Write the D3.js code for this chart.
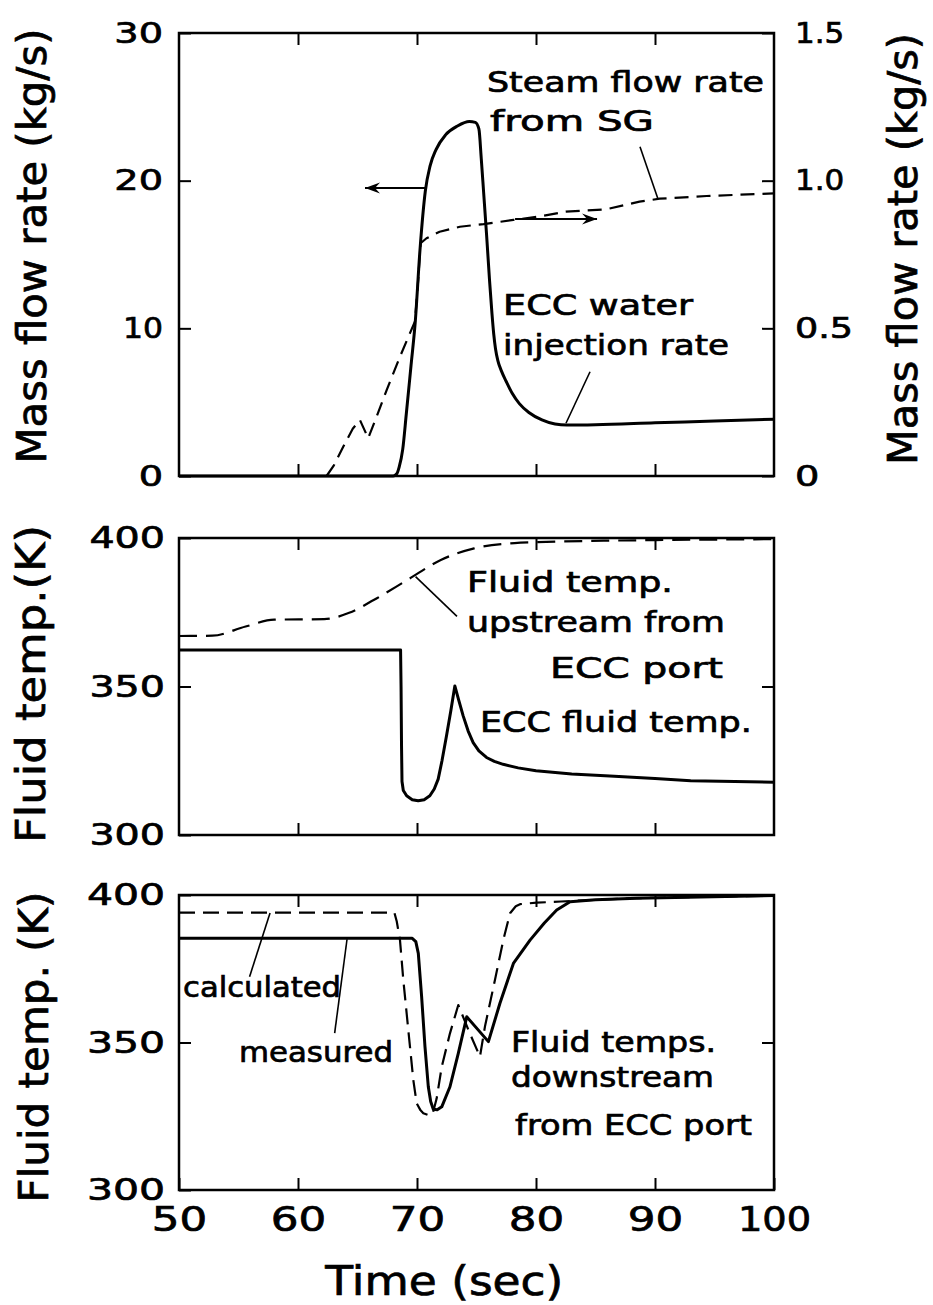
<!DOCTYPE html>
<html>
<head>
<meta charset="utf-8">
<script src="https://cdn.jsdelivr.net/npm/d3@7/dist/d3.min.js"></script>
<style>
  body { margin: 0; background: #fff; }
  svg { display: block; background: #fff; }
  text { font-family: "DejaVu Sans", "Liberation Sans", sans-serif; fill: #000; stroke: #000; stroke-width: 0.7px; }
</style>
</head>
<body>
<svg id="chart" width="933" height="1305"></svg>
<script>
// ---- data -------------------------------------------------------------
const timeTicks = [50, 60, 70, 80, 90, 100];
const flowTicks = [0, 10, 20, 30];
const steamTicks = [0, 0.5, 1.0, 1.5];
const tempTicks = [300, 350, 400];

// top panel, left axis: ECC water injection rate [time s, kg/s]
const eccInjection = [
  [50,0],[68.0,0],[68.3,0.15],[68.5,0.6],[68.8,1.8],[69.1,4.2],[69.5,7.5],[69.85,10.4],
  [70.25,15.3],[70.7,19.3],[71.1,21.0],[71.6,22.1],[72.4,23.1],[73.4,23.7],[74.4,24.0],
  [74.9,23.95],[75.2,23.5],[75.4,21.5],[75.6,19.2],[75.85,16.3],[76.1,13.2],[76.3,11.0],
  [76.45,9.6],[76.6,8.6],[76.8,7.8],[77.1,7.1],[77.5,6.4],[78.0,5.6],[78.6,4.9],[79.4,4.3],
  [80.5,3.8],[81.6,3.52],[82.6,3.45],[85,3.47],[90,3.6],[95,3.72],[100,3.85]
];
// top panel, right axis: steam flow rate from SG [time s, kg/s]
const steamFlow = [
  [62.4,0],[63.0,0.035],[63.8,0.099],[64.6,0.16],[65.2,0.19],[65.9,0.128],[66.6,0.2],
  [67.45,0.291],[68.57,0.404],[69.4,0.483],[69.83,0.523],[70.1,0.664],[70.3,0.788],
  [70.8,0.805],[71.9,0.827],[73.6,0.844],[75.6,0.853],[78.1,0.867],[80.5,0.88],[82.5,0.895],
  [85.9,0.903],[88.7,0.929],[90.4,0.939],[94.35,0.948],[100,0.957]
];
// middle panel: fluid temperature upstream from ECC port [time s, K]
const upstreamTemp = [
  [50,367],[52.8,367.1],[55.6,370.2],[58,372.5],[62.2,372.7],[64.3,374.8],[66.4,379.2],
  [69.2,385.9],[72,392.6],[74.8,396.5],[78.2,398.3],[80,398.6],[85.9,399.1],[90,399.3],[100,399.6]
];
// middle panel: ECC fluid temperature [time s, K]
const eccFluidTemp = [
  [50,362.3],[68.62,362.3],[68.66,350],[68.7,330],[68.74,318],[68.85,315],[69.13,313.2],
  [69.6,311.9],[70.1,311.5],[70.6,311.9],[71.08,313.2],[71.45,315.5],[71.78,318.8],
  [72.1,325],[72.48,333.4],[72.85,342],[73.18,350.2],[73.5,345.5],[73.88,340.1],[74.3,335],
  [74.72,331.1],[75.2,328.3],[75.84,326.1],[76.5,324.8],[77.24,323.8],[78.5,322.6],[80,321.6],
  [83,320.5],[86.2,319.9],[90,319],[93,318.3],[100,317.8]
];
// bottom panel: calculated downstream fluid temperature [time s, K]
const calculatedTemp = [
  [50,394],[68.1,394],[68.3,391],[68.57,384.7],[68.85,371.2],[69.27,354.2],[69.69,337.3],
  [69.97,329.4],[70.3,327],[70.53,326],[71.0,325.3],[71.3,325.6],[71.65,331],[72.08,341.8],
  [72.77,353.1],[73.47,362.7],[74.4,353.5],[75.29,345.2],[75.71,355.4],[76.55,371.2],
  [77.25,384.7],[77.82,393.8],[78.3,396.2],[78.66,396.9],[80.06,397.4],[82.1,397.8],
  [88,398.9],[100,399.8]
];
// bottom panel: measured downstream fluid temperature [time s, K]
const measuredTemp = [
  [50,385.3],[69.6,385.3],[69.9,384.2],[70.11,380.2],[70.39,365.5],[70.67,348.6],[70.95,335],
  [71.15,330],[71.37,327.4],[71.7,327.2],[72.08,328.2],[72.77,335],[73.47,346.3],[74.18,358.7],
  [76.0,350.3],[76.97,363.3],[78.1,376.8],[79.5,384.7],[80.7,390.5],[81.74,394.9],
  [82.86,397.7],[85,398.4],[88.46,398.9],[100,399.8]
];

// ---- layout -----------------------------------------------------------
const svg = d3.select("#chart");
const x = d3.scaleLinear().domain([50, 100]).range([179, 774]);
const yFlow = d3.scaleLinear().domain([0, 30]).range([476, 33]);
const ySteam = d3.scaleLinear().domain([0, 1.5]).range([476, 33]);
const yUp = d3.scaleLinear().domain([300, 400]).range([835, 538]);
const yDown = d3.scaleLinear().domain([300, 400]).range([1190, 895]);

// approximate glyph advance of the wide tick-label digits, in em
function labelWidth(s, fs) {
  let w = 0;
  for (const c of s) w += c === "1" ? 0.54 : c === "." ? 0.32 : 0.84;
  return w * fs;
}

function styleAxis(g, fs) {
  g.select(".domain").remove();
  g.selectAll(".tick line").attr("stroke", "#000").attr("stroke-width", 2);
  g.selectAll(".tick text")
    .attr("font-size", fs)
    .attr("font-family", "DejaVu Sans, sans-serif")
    .attr("fill", "#000")
    .attr("lengthAdjust", "spacingAndGlyphs")
    .attr("textLength", function () { return labelWidth(this.textContent, fs); });
}

function panel(y, opts) {
  const g = svg.append("g");
  const [bottom, top] = y.range();
  // inward ticks on all four sides
  g.append("g").attr("transform", `translate(${x(50)},0)`)
    .call(d3.axisLeft(y).tickValues(opts.leftTicks).tickSizeInner(-12).tickSizeOuter(0)
      .tickPadding(opts.leftPad).tickFormat(d3.format("d")))
    .call(a => styleAxis(a, opts.leftFont));
  g.append("g").attr("transform", `translate(0,${top})`)
    .call(d3.axisTop(x).tickValues([60, 70, 80, 90]).tickSizeInner(-12).tickSizeOuter(0).tickFormat(""))
    .call(a => styleAxis(a, 10));
  if (opts.bottomLabels) {
    g.append("g").attr("transform", `translate(0,${bottom})`)
      .call(d3.axisBottom(x).tickValues(timeTicks).tickSizeInner(-12).tickSizeOuter(0)
        .tickPadding(18).tickFormat(d3.format("d")))
      .call(a => styleAxis(a, 33));
  } else {
    g.append("g").attr("transform", `translate(0,${bottom})`)
      .call(d3.axisBottom(x).tickValues([60, 70, 80, 90]).tickSizeInner(-12).tickSizeOuter(0).tickFormat(""))
      .call(a => styleAxis(a, 10));
  }
  // frame
  g.append("rect")
    .attr("x", x(50)).attr("y", top)
    .attr("width", x(100) - x(50)).attr("height", bottom - top)
    .attr("fill", "none").attr("stroke", "#000").attr("stroke-width", 2.5);
  return g;
}

// arrowhead for the axis-pointer arrows
svg.append("defs").append("marker")
  .attr("id", "head").attr("viewBox", "-16 -8 18 16")
  .attr("refX", 0).attr("refY", 0)
  .attr("markerWidth", 18).attr("markerHeight", 16)
  .attr("markerUnits", "userSpaceOnUse").attr("orient", "auto")
  .append("path").attr("d", "M0,0 L-15,-5.5 L-10,0 L-15,5.5 Z").attr("fill", "#000");

function drawLine(y, data, opts) {
  const line = d3.line().x(d => x(d[0])).y(d => y(d[1])).curve(opts.curve || d3.curveLinear);
  svg.append("path").datum(data)
    .attr("d", line)
    .attr("fill", "none").attr("stroke", "#000")
    .attr("stroke-width", opts.width)
    .attr("stroke-linejoin", "round").attr("stroke-linecap", "butt")
    .attr("stroke-dasharray", opts.dash || null);
}

function leader(y, a, b, arrow) {
  svg.append("line")
    .attr("x1", x(a[0])).attr("y1", y(a[1]))
    .attr("x2", x(b[0])).attr("y2", y(b[1]))
    .attr("stroke", "#000").attr("stroke-width", arrow ? 2 : 1.6)
    .attr("marker-end", arrow ? "url(#head)" : null);
}

function note(y, pos, str, len, fs) {
  svg.append("text")
    .attr("x", x(pos[0])).attr("y", y(pos[1]))
    .attr("font-size", fs || 28)
    .attr("lengthAdjust", "spacingAndGlyphs").attr("textLength", len)
    .text(str);
}

function axisTitle(cx, cy, str, len) {
  svg.append("text")
    .attr("transform", `translate(${cx},${cy}) rotate(-90)`)
    .attr("text-anchor", "middle").attr("font-size", 40)
    .attr("lengthAdjust", "spacingAndGlyphs").attr("textLength", len)
    .text(str);
}

// ---- top panel: mass flow rates ---------------------------------------
panel(yFlow, { leftTicks: flowTicks, leftPad: 16, leftFont: 29 });
svg.append("g").attr("transform", `translate(${x(100)},0)`)
  .call(d3.axisRight(ySteam).tickValues(steamTicks).tickSizeInner(-12).tickSizeOuter(0)
    .tickPadding(21).tickFormat(d => d === 0 ? "0" : d3.format(".1f")(d)))
  .call(a => styleAxis(a, 29));

drawLine(ySteam, steamFlow, { width: 2.2, dash: "14,8" });
drawLine(yFlow, eccInjection, { width: 3, curve: d3.curveMonotoneX });

leader(yFlow, [70.81, 19.5], [65.63, 19.5], true);
leader(ySteam, [78.24, 0.87], [85.13, 0.87], true);
leader(ySteam, [88.74, 1.115], [90.25, 0.938]);
leader(yFlow, [84.54, 7.06], [82.52, 3.57]);

note(yFlow, [75.88, 26.0], "Steam flow rate", 277);
note(yFlow, [76.13, 23.36], "from  SG", 164);
note(yFlow, [77.23, 10.9], "ECC water", 190);
note(yFlow, [77.23, 8.19], "injection rate", 226);

axisTitle(46, 246, "Mass flow rate (kg/s)", 435);
axisTitle(917, 249, "Mass flow rate (kg/s)", 432);

// ---- middle panel: ECC fluid temperatures -----------------------------
panel(yUp, { leftTicks: tempTicks, leftPad: 14, leftFont: 30 });
svg.append("g").attr("transform", `translate(${x(100)},0)`)
  .call(d3.axisRight(yUp).tickValues([350]).tickSizeInner(-12).tickSizeOuter(0).tickFormat(""))
  .call(a => styleAxis(a, 10));

drawLine(yUp, upstreamTemp, { width: 2.2, dash: "18,9", curve: d3.curveMonotoneX });
drawLine(yUp, eccFluidTemp, { width: 3 });

leader(yUp, [69.88, 387.0], [73.36, 373.6]);
note(yUp, [74.2, 381.8], "Fluid temp.", 206);
note(yUp, [74.2, 368.35], "upstream from", 258);
note(yUp, [81.18, 352.9], "ECC port", 173);
note(yUp, [75.29, 334.7], "ECC fluid temp.", 272);

axisTitle(45, 684, "Fluid temp.(K)", 318);

// ---- bottom panel: downstream temperatures ----------------------------
panel(yDown, { leftTicks: tempTicks, leftPad: 14, leftFont: 31, bottomLabels: true });
svg.append("g").attr("transform", `translate(${x(100)},0)`)
  .call(d3.axisRight(yDown).tickValues([350]).tickSizeInner(-12).tickSizeOuter(0).tickFormat(""))
  .call(a => styleAxis(a, 10));

drawLine(yDown, calculatedTemp, { width: 2.2, dash: "16,8" });
drawLine(yDown, measuredTemp, { width: 3 });

leader(yDown, [55.93, 372.3], [57.65, 393.9]);
leader(yDown, [63.08, 353.2], [64.12, 385.0]);
note(yDown, [50.34, 365.4], "calculated", 158);
note(yDown, [55.04, 343.4], "measured", 154);
note(yDown, [77.9, 346.8], "Fluid temps.", 205);
note(yDown, [77.9, 334.9], "downstream", 203);
note(yDown, [78.24, 318.6], "from ECC port", 237);

axisTitle(48, 1047, "Fluid temp. (K)", 311);

// x-axis title
svg.append("text")
  .attr("x", x(72.3)).attr("y", 1295)
  .attr("text-anchor", "middle").attr("font-size", 41)
  .attr("lengthAdjust", "spacingAndGlyphs").attr("textLength", 238)
  .text("Time (sec)");
</script>
</body>
</html>
